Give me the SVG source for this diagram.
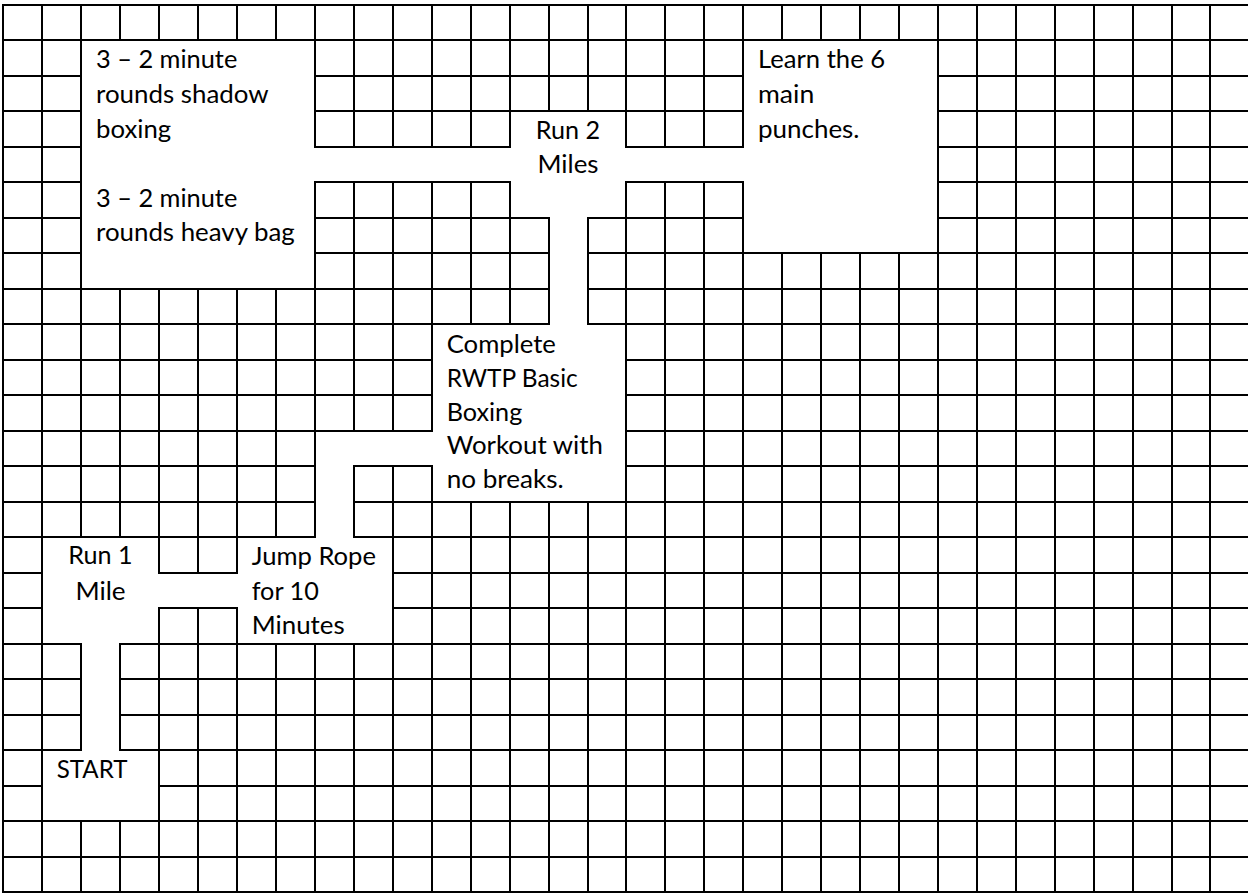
<svg xmlns="http://www.w3.org/2000/svg" width="1248" height="893" viewBox="0 0 1248 893">
<style>
.grid{fill:none;stroke:#000;stroke-width:2;stroke-linecap:square}
.cell{fill:#fff;stroke:none}
.lbl{font-family:Lato,"Open Sans","Liberation Sans",sans-serif;font-size:25px;fill:#000}
.c{text-anchor:middle}
</style>
<rect x="0" y="0" width="1248" height="893" fill="#fff"/>
<g id="grid">
<path class="grid" d="M3 5V892M42 5V892M81 5V892M120 5V892M159 5V892M198 5V892M237 5V892M276 5V892M315 5V892M354 5V892M393 5V892M432 5V892M471 5V892M510 5V892M549 5V892M588 5V892M626 5V892M665 5V892M704 5V892M743 5V892M782 5V892M821 5V892M860 5V892M899 5V892M938 5V892M977 5V892M1016 5V892M1055 5V892M1094 5V892M1133 5V892M1172 5V892M1210 5V892
M3 5H1250M3 40H1250M3 76H1250M3 111H1250M3 147H1250M3 182H1250M3 218H1250M3 253H1250M3 289H1250M3 324H1250M3 360H1250M3 395H1250M3 431H1250M3 466H1250M3 502H1250M3 537H1250M3 573H1250M3 608H1250M3 644H1250M3 679H1250M3 715H1250M3 750H1250M3 786H1250M3 821H1250M3 857H1250M3 892H1250"/>
</g>
<g id="connectors">
<rect class="cell" x="314" y="148" width="197" height="33"/>
<rect class="cell" x="625" y="148" width="119" height="33"/>
<rect class="cell" x="550" y="217" width="37" height="108"/>
<rect class="cell" x="316" y="432" width="117" height="33"/>
<rect class="cell" x="316" y="432" width="37" height="106"/>
<rect class="cell" x="158" y="574" width="80" height="33"/>
<rect class="cell" x="82" y="643" width="37" height="108"/>
</g>
<g id="shadow-boxing">
<rect class="cell" x="82" y="41" width="232" height="247"/>
<text class="lbl" x="96" y="68.3" textLength="141.3" lengthAdjust="spacingAndGlyphs">3 – 2 minute</text>
<text class="lbl" x="96" y="102.9" textLength="172.6" lengthAdjust="spacingAndGlyphs">rounds shadow</text>
<text class="lbl" x="96" y="137.5" textLength="75.1" lengthAdjust="spacingAndGlyphs">boxing</text>
<text class="lbl" x="96" y="206.7" textLength="141.3" lengthAdjust="spacingAndGlyphs">3 – 2 minute</text>
<text class="lbl" x="96" y="241.3" textLength="198.8" lengthAdjust="spacingAndGlyphs">rounds heavy bag</text>
</g>
<g id="run-2-miles">
<rect class="cell" x="511" y="112" width="114" height="105"/>
<text class="lbl c" x="568" y="139.3" textLength="64.4" lengthAdjust="spacingAndGlyphs">Run 2</text>
<text class="lbl c" x="568" y="173.3" textLength="61" lengthAdjust="spacingAndGlyphs">Miles</text>
</g>
<g id="learn-punches">
<rect class="cell" x="744" y="41" width="193" height="211"/>
<text class="lbl" x="758" y="68.3" textLength="127.1" lengthAdjust="spacingAndGlyphs">Learn the 6</text>
<text class="lbl" x="758" y="102.9" textLength="56.3" lengthAdjust="spacingAndGlyphs">main</text>
<text class="lbl" x="758" y="137.5" textLength="101.5" lengthAdjust="spacingAndGlyphs">punches.</text>
</g>
<g id="complete-workout">
<rect class="cell" x="433" y="325" width="192" height="176"/>
<text class="lbl" x="446.7" y="352.7" textLength="109.2" lengthAdjust="spacingAndGlyphs">Complete</text>
<text class="lbl" x="446.7" y="386.6" textLength="131" lengthAdjust="spacingAndGlyphs">RWTP Basic</text>
<text class="lbl" x="446.7" y="420.5" textLength="75.6" lengthAdjust="spacingAndGlyphs">Boxing</text>
<text class="lbl" x="446.7" y="454.4" textLength="156.2" lengthAdjust="spacingAndGlyphs">Workout with</text>
<text class="lbl" x="446.7" y="488.3" textLength="117.1" lengthAdjust="spacingAndGlyphs">no breaks.</text>
</g>
<g id="run-1-mile">
<rect class="cell" x="43" y="538" width="115" height="105"/>
<text class="lbl c" x="100.5" y="564.3" textLength="64.4" lengthAdjust="spacingAndGlyphs">Run 1</text>
<text class="lbl c" x="100.5" y="599.5" textLength="50.2" lengthAdjust="spacingAndGlyphs">Mile</text>
</g>
<g id="jump-rope">
<rect class="cell" x="238" y="538" width="154" height="105"/>
<text class="lbl" x="251.7" y="565" textLength="124.3" lengthAdjust="spacingAndGlyphs">Jump Rope</text>
<text class="lbl" x="251.7" y="599.6" textLength="67.1" lengthAdjust="spacingAndGlyphs">for 10</text>
<text class="lbl" x="251.7" y="634" textLength="93" lengthAdjust="spacingAndGlyphs">Minutes</text>
</g>
<g id="start">
<rect class="cell" x="43" y="751" width="115" height="69"/>
<text class="lbl" x="56.7" y="778.3" textLength="70.8" lengthAdjust="spacingAndGlyphs">START</text>
</g>
</svg>
